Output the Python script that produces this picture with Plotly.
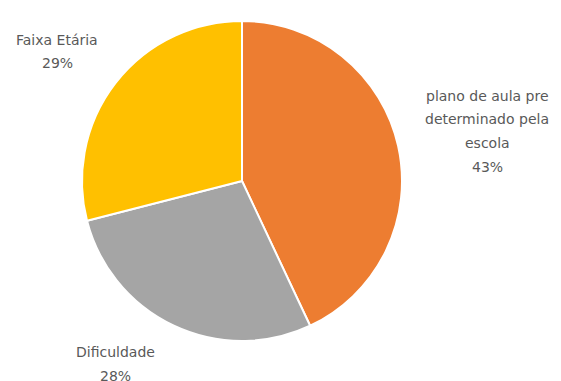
import plotly.graph_objects as go

# Share of responses by category (percent)
categories = ["plano de aula pre determinado pela escola", "Dificuldade", "Faixa Etária"]
values = [43, 28, 29]
colors = ["#ED7D31", "#A5A5A5", "#FFC000"]

# Outside label lines per category, as wrapped on the chart
label_lines = [
    ["plano de aula pre", "determinado pela", "escola"],
    ["Dificuldade"],
    ["Faixa Etária"],
]
# Centre (x, first-line y) of each outside label, in pixels from top-left
label_anchor = [(487, 96), (115, 352), (57, 40)]

W, H = 561, 381
cx, cy, r = 242, 181, 160

fig = go.Figure(go.Pie(
    labels=categories,
    values=values,
    sort=False,
    direction="clockwise",
    rotation=0,
    marker=dict(colors=colors, line=dict(color="white", width=2)),
    textinfo="none",
    hoverinfo="label+percent",
    domain=dict(x=[(cx - r) / W, (cx + r) / W],
                y=[(H - cy - r) / H, (H - cy + r) / H]),
    showlegend=False,
))

line_step = 23.5
annotations = []
for lines, v, (ax, ay) in zip(label_lines, values, label_anchor):
    for i, t in enumerate(lines + [f"{v}%"]):
        annotations.append(dict(
            x=ax / W, y=1 - (ay + i * line_step) / H,
            xref="paper", yref="paper", text=t, showarrow=False,
            xanchor="center", yanchor="middle",
            font=dict(family="DejaVu Sans", size=14, color="#595959"),
        ))

fig.update_layout(
    width=W, height=H,
    margin=dict(l=0, r=0, t=0, b=0),
    paper_bgcolor="white", plot_bgcolor="white",
    annotations=annotations,
)

fig.write_html("out.html")
